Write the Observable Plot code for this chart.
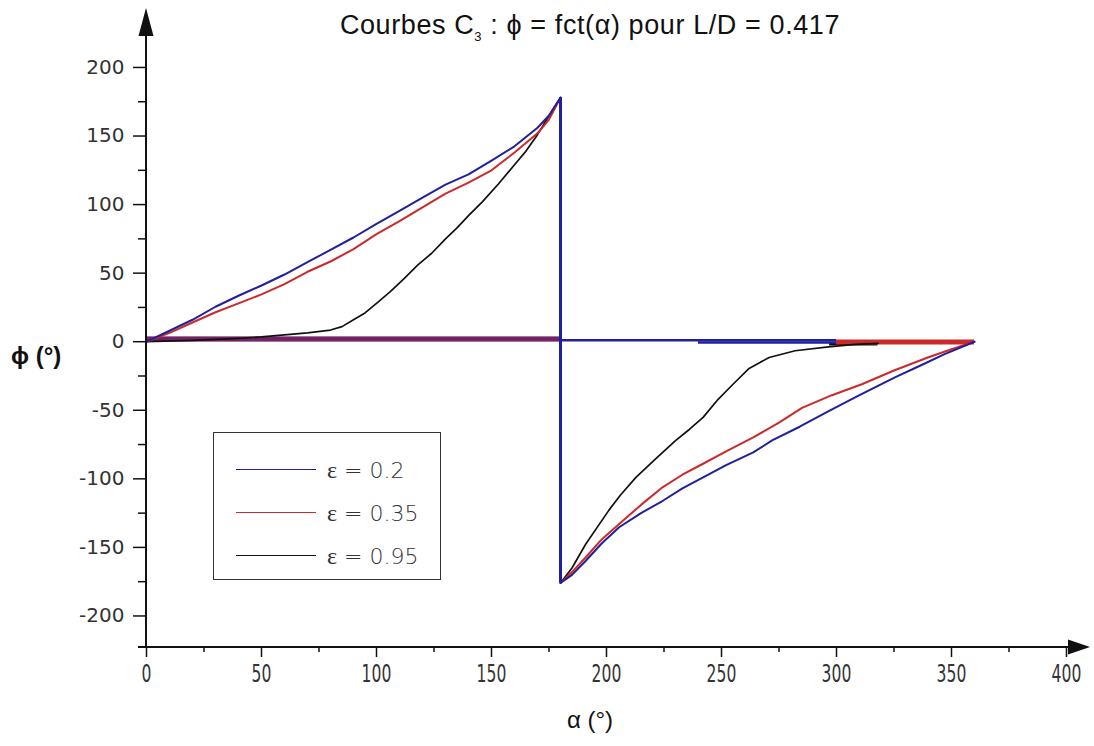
<!DOCTYPE html>
<html>
<head>
<meta charset="utf-8">
<script src="https://cdn.jsdelivr.net/npm/d3@7"></script>
<script src="https://cdn.jsdelivr.net/npm/@observablehq/plot@0.6"></script>
<style>
  body { margin: 0; background: #fff; }
  #wrap { position: relative; width: 1094px; height: 746px; font-family: "Liberation Sans", Arial, sans-serif; overflow: hidden; }
  #wrap svg { position: absolute; left: 0; top: 0; }
  .title { position: absolute; left: 590px; top: 10px; transform: translateX(-50%); white-space: nowrap; font-size: 27px; letter-spacing: 0.6px; color: #111; }
  .title sub { font-size: 13px; vertical-align: -7px; }
  .ylab { position: absolute; left: 11px; top: 342px; font-size: 24px; font-weight: bold; color: #111; white-space: nowrap; }
  .xlab { position: absolute; left: 590px; top: 706px; transform: translateX(-50%); font-size: 24px; color: #111; white-space: nowrap; }
  .legend { position: absolute; left: 213px; top: 432px; width: 226px; height: 146px; border: 1.5px solid #333; background: #fff; }
  .entry { position: absolute; left: 22px; height: 30px; width: 200px; }
  .entry .ln { position: absolute; left: 0; top: 14px; width: 80px; height: 0; border-top: 1.5px solid; }
  .entry .tx { position: absolute; left: 91px; top: 0; font-family: "DejaVu Sans", sans-serif; font-weight: 300; font-size: 22px; color: #333; line-height: 30px; white-space: nowrap; }
  .entry .eps { font-family: "Liberation Serif", serif; font-size: 24px; }
</style>
</head>
<body>
<div id="wrap">
  <div class="title">Courbes C<sub>3</sub> : ϕ = fct(α) pour L/D = 0.417</div>
  <div class="ylab">ϕ (°)</div>
  <div class="xlab">α (°)</div>
</div>
<script>
// ---- tick labels ----
const xMajor = [0, 50, 100, 150, 200, 250, 300, 350, 400];
const xMinor = [25, 75, 125, 175, 225, 275, 325, 375];
const yMajor = [-200, -150, -100, -50, 0, 50, 100, 150, 200];
const yMinor = [-175, -125, -75, -25, 25, 75, 125, 175];

// ---- series names / colours ----
const seriesNames = ["ε = 0.2", "ε = 0.35", "ε = 0.95"];
const seriesColors = ["#20209a", "#cc2a2a", "#111111"];

// ---- ε = 0.2 (blue) ----
const aBlueUp = [0, 10, 20, 30, 40, 50, 60, 70, 80, 90, 100, 110, 120, 130, 140, 150, 160, 170, 175, 180];
const pBlueUp = [0, 8, 16, 25.5, 33.5, 41, 49, 58, 67, 76, 86, 95.5, 105, 114.5, 122, 132, 142.5, 156, 165, 178];
const aBlueLow = [180, 185, 191, 198, 205.5, 215, 224.5, 233, 242, 252, 263.8, 272, 284, 296.6, 310, 325.4, 337, 347, 360];
const pBlueLow = [-176, -170, -159.7, -147, -135.3, -125, -116, -107, -98.9, -90, -80.7, -72, -62, -50.7, -39, -26, -17, -9, 0];
const blueFlat = [[0, 180, 2], [180, 300, 1], [240, 300, -0.5]];

// ---- ε = 0.35 (red) ----
const aRedUp = [0, 10, 20, 30, 40, 50, 60, 70, 80, 90, 100, 110, 120, 130, 140, 150, 160, 170, 175, 180];
const pRedUp = [0, 6.5, 14, 21.5, 28, 34.5, 42, 51, 58.5, 67.5, 78.5, 88, 98, 108, 116, 125, 138, 152, 162, 178];
const aRedLow = [180, 185, 191, 198, 205.5, 215, 224.5, 233, 242, 252, 263.8, 275, 285, 298, 311, 325, 339.7, 350, 360];
const pRedLow = [-176, -168, -157.2, -144, -133, -119, -106, -97, -89, -80, -69.8, -59, -48.3, -39, -31, -21, -11.5, -5.5, 0];
const redFlat = [[0, 180, 2], [300, 360, -0.3]];

// ---- ε = 0.95 (black) ----
const aBlackUp = [0, 20, 40, 50, 60, 70, 80, 85, 90, 95, 100, 106, 112, 118, 124, 130, 135, 140, 146, 153, 160, 165, 170, 175, 180];
const pBlackUp = [0, 1, 2.5, 3.5, 5, 6.5, 8.5, 11, 16, 21, 28, 36.5, 46, 56, 64.5, 75, 83, 92, 102, 115, 129, 139, 151, 164.8, 178];
const aBlackLow = [180, 185, 191, 201, 206, 212.8, 221, 230, 236, 242, 248, 255, 262, 270.7, 282, 296.5, 308, 318];
const pBlackLow = [-176, -165, -147.5, -123, -112, -98.9, -86, -72.2, -64, -55.2, -43, -31, -19.5, -11.5, -6.6, -3.7, -2, -1.2];
const blackFlat = [[297, 318, -1.8]];

// build point tables (upper branch, jump at 180, lower branch)
function path(aU, pU, aL, pL) {
  return aU.map((a, i) => ({a, p: pU[i]})).concat(aL.map((a, i) => ({a, p: pL[i]})));
}
const blueData = path(aBlueUp, pBlueUp, aBlueLow, pBlueLow);
const redData = path(aRedUp, pRedUp, aRedLow, pRedLow);
const blackData = path(aBlackUp, pBlackUp, aBlackLow, pBlackLow);

const [cBlue, cRed, cBlack] = seriesColors;

function axesDecor(index, scales, values, dims) {
  const g = d3.create("svg:g").attr("fill", "#111").attr("stroke", "#111");
  const left = dims.marginLeft, top = dims.marginTop;
  const bottom = dims.height - dims.marginBottom;
  const right = dims.width - 4;
  g.append("line").attr("x1", left - 8).attr("x2", right - 16).attr("y1", bottom).attr("y2", bottom).attr("stroke-width", 2);
  g.append("line").attr("x1", left).attr("x2", left).attr("y1", bottom).attr("y2", top + 20).attr("stroke-width", 2);
  g.append("path").attr("stroke", "none").attr("d", `M${right},${bottom}L${right - 22},${bottom - 7.5}L${right - 22},${bottom + 7.5}Z`);
  g.append("path").attr("stroke", "none").attr("d", `M${left},${top}L${left - 7.5},${top + 28}L${left + 7.5},${top + 28}Z`);
  return g.node();
}

const chart = Plot.plot({
  width: 1094,
  height: 746,
  marginLeft: 146,
  marginRight: 28,
  marginTop: 8,
  marginBottom: 99,
  x: {domain: [0, 400], label: null},
  y: {domain: [-223, 243], label: null},
  style: {background: "transparent", fontFamily: "'Liberation Sans', Arial, sans-serif", fontSize: "20px", color: "#333"},
  marks: [
    Plot.axisX(xMajor, {tickSize: 10, tickPadding: 7, strokeWidth: 1.5, stroke: "#111", fontSize: 20, fontFamily: "'DejaVu Sans', sans-serif", label: null, tickFormat: d => String(d)}),
    Plot.axisX(xMinor, {tickSize: 5, strokeWidth: 1.5, stroke: "#111", tickFormat: () => "", label: null}),
    Plot.axisY(yMajor, {tickSize: 13, tickPadding: 9, strokeWidth: 1.5, stroke: "#111", fontSize: 20, fontFamily: "'DejaVu Sans', sans-serif", label: null, tickFormat: d => String(d)}),
    Plot.axisY(yMinor, {tickSize: 8, strokeWidth: 1.5, stroke: "#111", tickFormat: () => "", label: null}),
    // flat (φ≈0) branches
    Plot.ruleY(blackFlat, {x1: d => d[0], x2: d => d[1], y: d => d[2], stroke: cBlack, strokeWidth: 2.5}),
    Plot.ruleY(redFlat, {x1: d => d[0], x2: d => d[1], y: d => d[2], stroke: cRed, strokeWidth: 5}),
    Plot.ruleY(blueFlat, {x1: d => d[0], x2: d => d[1], y: d => d[2], stroke: cBlue, strokeWidth: d => d[0] < 180 ? 5 : 2.5, strokeOpacity: d => d[0] < 180 ? 0.55 : 1}),
    // curves
    Plot.line(blackData, {x: "a", y: "p", stroke: cBlack, strokeWidth: 1.7}),
    Plot.line(redData, {x: "a", y: "p", stroke: cRed, strokeWidth: 2}),
    Plot.line(blueData, {x: "a", y: "p", stroke: cBlue, strokeWidth: 2}),
    Plot.ruleX([aBlueUp[aBlueUp.length - 1]], {y1: pBlueLow[0], y2: pBlueUp[pBlueUp.length - 1], stroke: cBlue, strokeWidth: 3}),
    axesDecor
  ]
});
// condensed, taller look of the x tick labels
chart.querySelectorAll('g[aria-label="x-axis tick label"] text').forEach(t => {
  const tr = t.getAttribute("transform") || "";
  t.setAttribute("transform", tr + " scale(0.78,1.22)");
});
const wrap = document.getElementById("wrap");
wrap.insertBefore(chart, wrap.firstChild);

// legend
const legend = document.createElement("div");
legend.className = "legend";
seriesNames.forEach((name, i) => {
  const e = document.createElement("div");
  e.className = "entry";
  e.style.top = (22 + i * 43) + "px";
  const [eps, rest] = [name.slice(0, 1), name.slice(1)];
  e.innerHTML = `<div class="ln" style="border-color:${seriesColors[i]}"></div><div class="tx"><span class="eps">${eps}</span>${rest}</div>`;
  legend.appendChild(e);
});
wrap.appendChild(legend);
</script>
</body>
</html>
